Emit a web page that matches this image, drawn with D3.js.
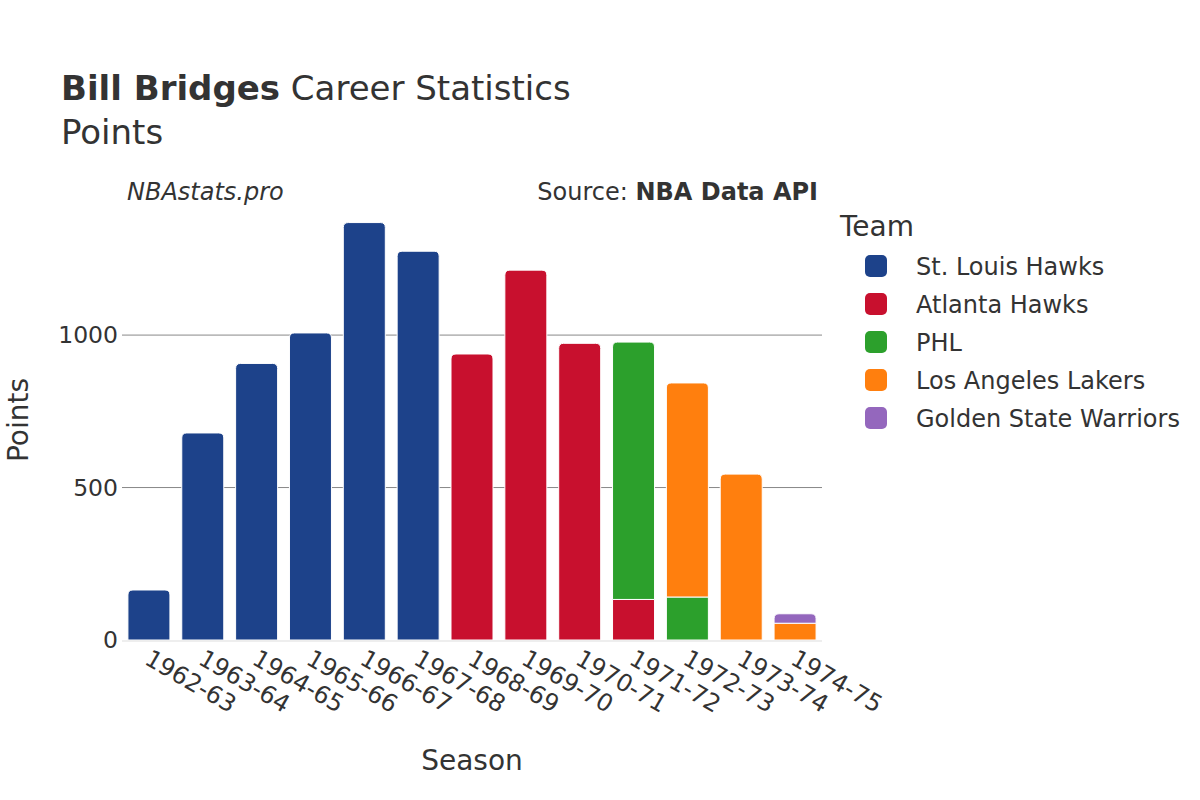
<!DOCTYPE html>
<html><head><meta charset="utf-8">
<script src="https://cdn.jsdelivr.net/npm/d3@7"></script>
<style>body{margin:0;background:#fff;} text{font-family:"DejaVu Sans",sans-serif;fill:#333;}</style>
</head><body>
<svg id="c" width="1200" height="800"></svg>
<script>
const seasons = ["1962-63","1963-64","1964-65","1965-66","1966-67","1967-68","1968-69","1969-70","1970-71","1971-72","1972-73","1973-74","1974-75"];
const teams = ["St. Louis Hawks","Atlanta Hawks","PHL","Los Angeles Lakers","Golden State Warriors"];
const teamColors = ["#1d428a","#c8102e","#2ca02c","#ff7f0e","#9467bd"];
const stLouis  = [164,679,907,1007,1369,1275,0,0,0,0,0,0,0];
const atlanta  = [0,0,0,0,0,0,938,1213,973,133,0,0,0];
const phl      = [0,0,0,0,0,0,0,0,0,844,141,0,0];
const lakers   = [0,0,0,0,0,0,0,0,0,0,702,544,55];
const gsw      = [0,0,0,0,0,0,0,0,0,0,0,0,31];
const yTicks = [0,500,1000];
const series = [stLouis, atlanta, phl, lakers, gsw];

const FONT = "'DejaVu Sans',sans-serif";
const svg = d3.select("#c");
const m = {l:122, r:822, t:200, b:640};
const x = d3.scaleBand().domain(seasons).range([m.l, m.r]).paddingInner(0.22).paddingOuter(0.11);
const y = d3.scaleLinear().domain([0, 1443]).range([m.b, m.t]);

// gridlines
svg.append("g").selectAll("line").data(yTicks.filter(d=>d>0)).join("line")
  .attr("x1", m.l).attr("x2", m.r).attr("y1", d=>y(d)).attr("y2", d=>y(d))
  .attr("stroke", "#888").attr("stroke-width", 1);

// y axis
const yAxis = svg.append("g").attr("transform", `translate(${m.l},0)`)
  .call(d3.axisLeft(y).tickValues(yTicks).tickSize(0).tickPadding(4).tickFormat(d3.format("d")));
yAxis.select(".domain").remove();
yAxis.selectAll("text").style("font-size","23.5px").attr("fill","#333").style("font-family",FONT);

// stacked data
const rows = seasons.map((s,i)=>{ const o={season:s}; teams.forEach((t,j)=>o[t]=series[j][i]); return o; });
const stack = d3.stack().keys(teams)(rows);
const r = 5;
seasons.forEach((s,i)=>{
  let topIdx = -1;
  stack.forEach((layer,j)=>{ if (layer[i][1]-layer[i][0] > 0) topIdx = j; });
  stack.forEach((layer,j)=>{
    const d = layer[i];
    if (d[1]-d[0] <= 0) return;
    const x0 = x(s), w = x.bandwidth(), y0 = y(d[0]), y1 = y(d[1]);
    let p;
    if (j === topIdx) {
      p = `M${x0},${y0}V${y1+r}Q${x0},${y1} ${x0+r},${y1}H${x0+w-r}Q${x0+w},${y1} ${x0+w},${y1+r}V${y0}Z`;
    } else {
      p = `M${x0},${y0}V${y1}H${x0+w}V${y0}Z`;
    }
    svg.append("path").attr("d", p).attr("fill", teamColors[j])
      .attr("stroke", "#fff").attr("stroke-width", 1);
  });
});

// zero line
svg.append("line").attr("x1", m.l).attr("x2", m.r).attr("y1", y(0)+1).attr("y2", y(0)+1)
  .attr("stroke", "#eee").attr("stroke-width", 2);

// x axis
const xAxis = svg.append("g").attr("transform", `translate(0,${m.b})`)
  .call(d3.axisBottom(x).tickSize(0).tickPadding(0));
xAxis.select(".domain").remove();
xAxis.selectAll("text").style("font-size","24px").attr("fill","#333")
  .style("font-family",FONT)
  .attr("text-anchor","start").attr("dy",null).attr("y",0)
  .attr("transform","translate(3,8) rotate(30)").attr("dominant-baseline","hanging");

// titles
const t = svg.append("text").attr("x", 61).attr("y", 100).style("font-size","34px");
t.append("tspan").text("Bill Bridges").style("font-weight","bold");
t.append("tspan").text(" Career Statistics");
svg.append("text").attr("x", 61).attr("y", 144).style("font-size","34px").text("Points");
svg.append("text").attr("x", 127).attr("y", 200).style("font-size","24px").style("font-style","italic").text("NBAstats.pro");
const src = svg.append("text").attr("x", 818).attr("y", 200).attr("text-anchor","end").style("font-size","24px");
src.append("tspan").text("Source: ");
src.append("tspan").text("NBA Data API").style("font-weight","bold");

svg.append("text").attr("x", 472).attr("y", 770).attr("text-anchor","middle").style("font-size","28px").text("Season");
svg.append("text").attr("transform","translate(28,420) rotate(-90)").attr("text-anchor","middle").style("font-size","28px").text("Points");

// legend
svg.append("text").attr("x", 840).attr("y", 236).style("font-size","28px").text("Team");
const lg = svg.append("g").selectAll("g").data(teams).join("g")
  .attr("transform",(d,i)=>`translate(865,${266 + i*38})`);
lg.append("rect").attr("x",0).attr("y",-11).attr("width",22).attr("height",22).attr("rx",5)
  .attr("fill",(d,i)=>teamColors[i]);
lg.append("text").attr("x",51).attr("y",9).style("font-size","24px").text(d=>d);
</script>
</body></html>
